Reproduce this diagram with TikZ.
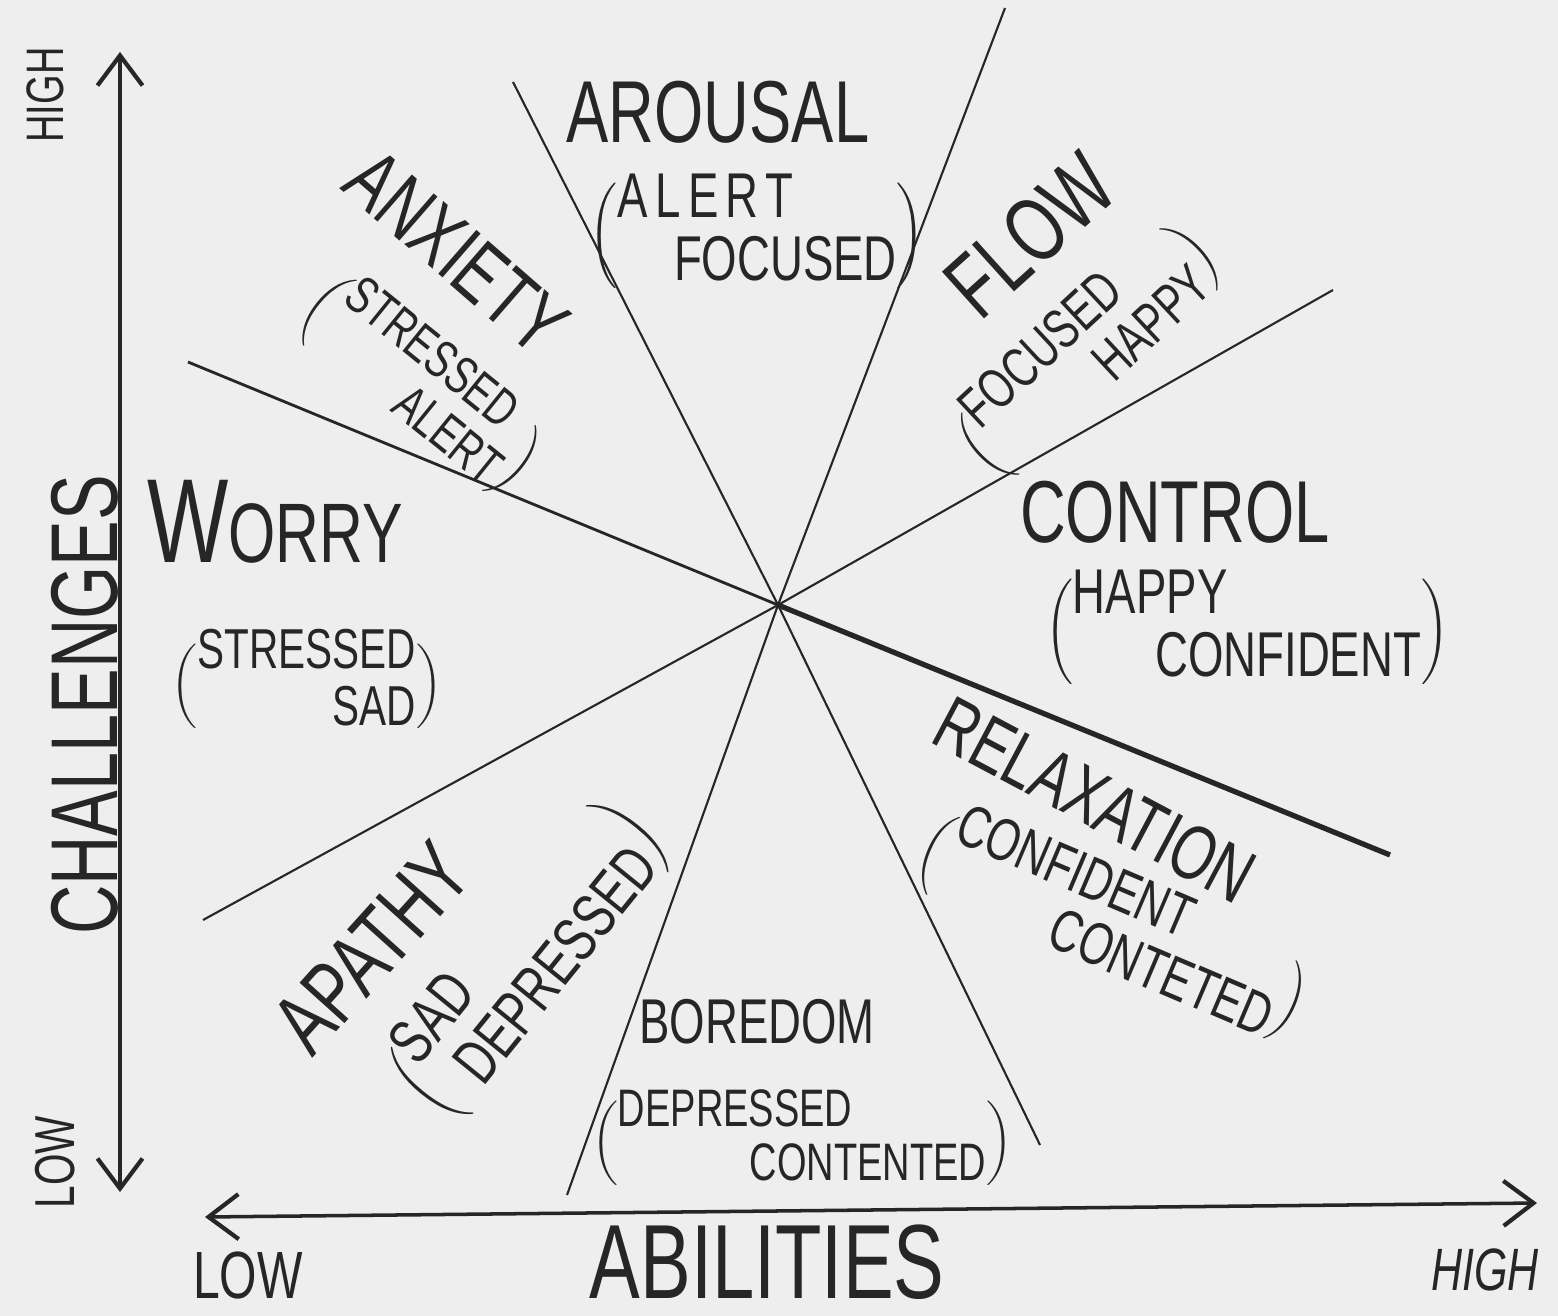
\documentclass[tikz,border=0pt]{standalone}
\usepackage{fontspec}
\setmainfont{Liberation Sans}[FakeStretch=0.72]
\usetikzlibrary{arrows.meta,calc}

\definecolor{paper}{RGB}{238,238,238}
\definecolor{ink}{RGB}{38,38,38}
\renewcommand{\arraystretch}{0.85}
\newcommand{\feel}[2]{\delimiterfactor=700\delimitershortfall=20pt$\left(\begin{tabular}{@{}l@{}}#1\\#2\end{tabular}\right)$}

\begin{document}
\begin{tikzpicture}[
        x = 0.01cm, y = -0.01cm,
        axis/.style = {draw=ink, line width=1pt, {Straight Barb[length=3mm,width=4.5mm,line width=1.2pt]}-{Straight Barb[length=3mm,width=4.5mm,line width=1.2pt]}},
        split/.style = {draw=ink, line width=0.6pt},
        mood/.style = {text=ink, inner sep=0pt, font=\fontsize{25}{27}\selectfont},
        sub/.style = {text=ink, inner sep=0pt, font=\fontsize{17}{20}\selectfont},
        tag/.style = {text=ink, inner sep=0pt}
    ]

        \useasboundingbox (0,0) rectangle (1558,1316);
        \fill [paper] (0,0) rectangle (1558,1316);

        % Place coordinates
        \coordinate (mid) at (778,605);
        \coordinate (aroT) at (513,82);
        \coordinate (aroB) at (1040,1145);
        \coordinate (flowT) at (1005,8);
        \coordinate (flowB) at (567,1195);
        \coordinate (ctrlR) at (1333,290);
        \coordinate (ctrlL) at (203,920);
        \coordinate (worL) at (188,362);
        \coordinate (worR) at (1390,855);
        \coordinate (yLow) at (120,1192);
        \coordinate (yHigh) at (120,52);
        \coordinate (xLow) at (205,1217);
        \coordinate (xHigh) at (1537,1203);

        % Draw edges
        \draw [axis] (yLow) -- (yHigh);
        \draw [axis] (xLow) -- (xHigh);
        \draw [split] (aroT) -- (mid) -- (aroB);
        \draw [split] (flowT) -- (mid) -- (flowB);
        \draw [split] (ctrlR) -- (mid) -- (ctrlL);
        \draw [split, line width=0.8pt] (worL) -- (mid);
        \draw [split, line width=1.5pt] (mid) -- (worR);

        % Place nodes
        \node [mood] (arousal) at (718,112) {AROUSAL};
        \node [sub, font=\fontsize{18}{21}\selectfont] (arousalsub) at (757,236) {\feel{{\addfontfeatures{LetterSpace=12}ALERT}}{\hspace{0.9em}FOCUSED}};

        \node [mood, font=\fontsize{24}{26}\selectfont, rotate=-41] (anxiety) at (457,252) {ANXIETY};
        \node [sub, font=\fontsize{15}{18}\selectfont, rotate=-39] (anxietysub) at (420,386) {\feel{STRESSED}{\hspace{2em}ALERT}};

        \node [mood, font=\fontsize{26}{28}\selectfont, rotate=42] (flow) at (1030,235) {FLOW};
        \node [sub, font=\fontsize{16}{19}\selectfont, rotate=43] (flowsub) at (1090,352) {\feel{FOCUSED}{\hspace{2.3em}HAPPY}};

        \node [mood] (control) at (1175,512) {CONTROL};
        \node [sub, font=\fontsize{18}{21}\selectfont] (controlsub) at (1247,632) {\feel{HAPPY}{\hspace{1.3em}CONFIDENT}};

        \node [mood, font=\fontsize{24}{26}\selectfont] (worry) at (275,522) {{\fontsize{34}{36}\selectfont W}ORRY};
        \node [sub, font=\fontsize{16}{19}\selectfont] (worrysub) at (307,686) {\feel{STRESSED}{\hspace{2.4em}SAD}};

        \node [mood, font=\fontsize{22}{24}\selectfont, rotate=-28] (relax) at (1095,800) {RELAXATION};
        \node [sub, rotate=-23] (relaxsub) at (1112,928) {\feel{CONFIDENT}{\hspace{2.1em}CONTETED}};

        \node [mood, rotate=48] (apathy) at (372,948) {APATHY};
        \node [sub, font=\fontsize{18}{21}\selectfont, rotate=51] (apathysub) at (530,960) {\feel{SAD}{\hspace{0.4em}DEPRESSED}};

        \node [mood, font=\fontsize{18}{20}\selectfont] (boredom) at (757,1022) {BOREDOM};
        \node [sub, font=\fontsize{15}{18}\selectfont] (boredomsub) at (802,1143) {\feel{DEPRESSED}{\hspace{2.5em}CONTENTED}};

        % Axis labels
        \node [tag, font=\fontsize{15}{17}\selectfont, rotate=90] (highY) at (45,95) {HIGH};
        \node [tag, font=\fontsize{16}{18}\selectfont, rotate=90] (lowY) at (55,1162) {LOW};
        \node [tag, font=\fontsize{27}{29}\selectfont, rotate=90] (challenges) at (85,705) {CHALLENGES};
        \node [tag, font=\fontsize{19}{21}\selectfont] (lowX) at (248,1275) {LOW};
        \node [tag, font=\fontsize{30}{32}\selectfont] (abilities) at (767,1262) {ABILITIES};
        \node [tag, font=\fontsize{17}{19}\selectfont\itshape] (highX) at (1485,1270) {HIGH};

\end{tikzpicture}
\end{document}
